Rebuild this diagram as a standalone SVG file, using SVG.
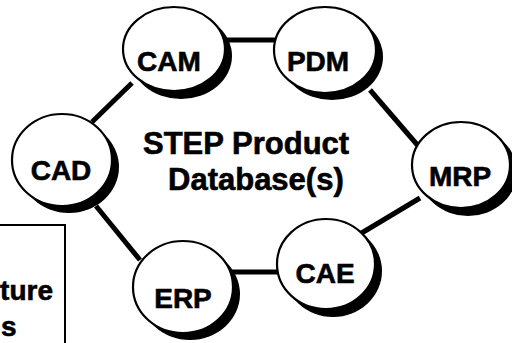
<svg xmlns="http://www.w3.org/2000/svg" width="512" height="343" viewBox="0 0 512 343">
<style>
.sh{fill:#000}
.nd{fill:#fff;stroke:#000;stroke-width:2.2}
.lb{font-family:"Liberation Sans",Arial,sans-serif;font-weight:bold;font-size:28px;fill:#000;stroke:#000;stroke-width:0.6;text-anchor:middle}
.ct{font-family:"Liberation Sans",Arial,sans-serif;font-weight:bold;font-size:31px;fill:#000;stroke:#000;stroke-width:0.6}
.cn{stroke:#000;stroke-width:5;fill:none}
</style>
<rect width="512" height="343" fill="#fff"/>
<g id="connectors">
<line class="cn" x1="220" y1="40" x2="278" y2="40"/>
<line class="cn" x1="370" y1="90" x2="420" y2="148"/>
<line class="cn" x1="420" y1="198" x2="360" y2="234"/>
<line class="cn" x1="280" y1="272" x2="230" y2="272"/>
<line class="cn" x1="140" y1="260" x2="96" y2="206"/>
<line class="cn" x1="92" y1="122" x2="132" y2="83"/>
</g>
<g id="cam">
<ellipse class="sh" cx="181" cy="56" rx="51" ry="43"/>
<ellipse class="nd" cx="174" cy="49" rx="51" ry="42"/>
<text class="lb" x="169" y="71">CAM</text>
</g>
<g id="pdm">
<ellipse class="sh" cx="332" cy="57" rx="51" ry="43"/>
<ellipse class="nd" cx="325" cy="50" rx="51" ry="43"/>
<text class="lb" x="318" y="71">PDM</text>
</g>
<g id="cad">
<ellipse class="sh" cx="69" cy="167" rx="50" ry="46"/>
<ellipse class="nd" cx="62" cy="160" rx="50" ry="46"/>
<text class="lb" x="61" y="180">CAD</text>
</g>
<g id="mrp">
<ellipse class="sh" cx="468" cy="172" rx="49" ry="44"/>
<ellipse class="nd" cx="461" cy="165" rx="49" ry="43"/>
<text class="lb" x="460" y="186">MRP</text>
</g>
<g id="cae">
<ellipse class="sh" cx="333" cy="271" rx="49" ry="46"/>
<ellipse class="nd" cx="326" cy="264" rx="49" ry="45"/>
<text class="lb" x="325" y="283">CAE</text>
</g>
<g id="erp">
<ellipse class="sh" cx="190" cy="294" rx="50" ry="46"/>
<ellipse class="nd" cx="183" cy="287" rx="50" ry="46"/>
<text class="lb" x="183" y="308">ERP</text>
</g>
<g id="center">
<text class="ct" x="143" y="154">STEP Product</text>
<text class="ct" x="168" y="190">Database(s)</text>
</g>
<g id="box">
<rect x="-10" y="225" width="75" height="130" fill="#fff" stroke="#000" stroke-width="2"/>
<text class="lb" x="53" y="300" style="text-anchor:end">ture</text>
<text class="lb" x="1" y="336" style="text-anchor:start">s</text>
</g>
</svg>
